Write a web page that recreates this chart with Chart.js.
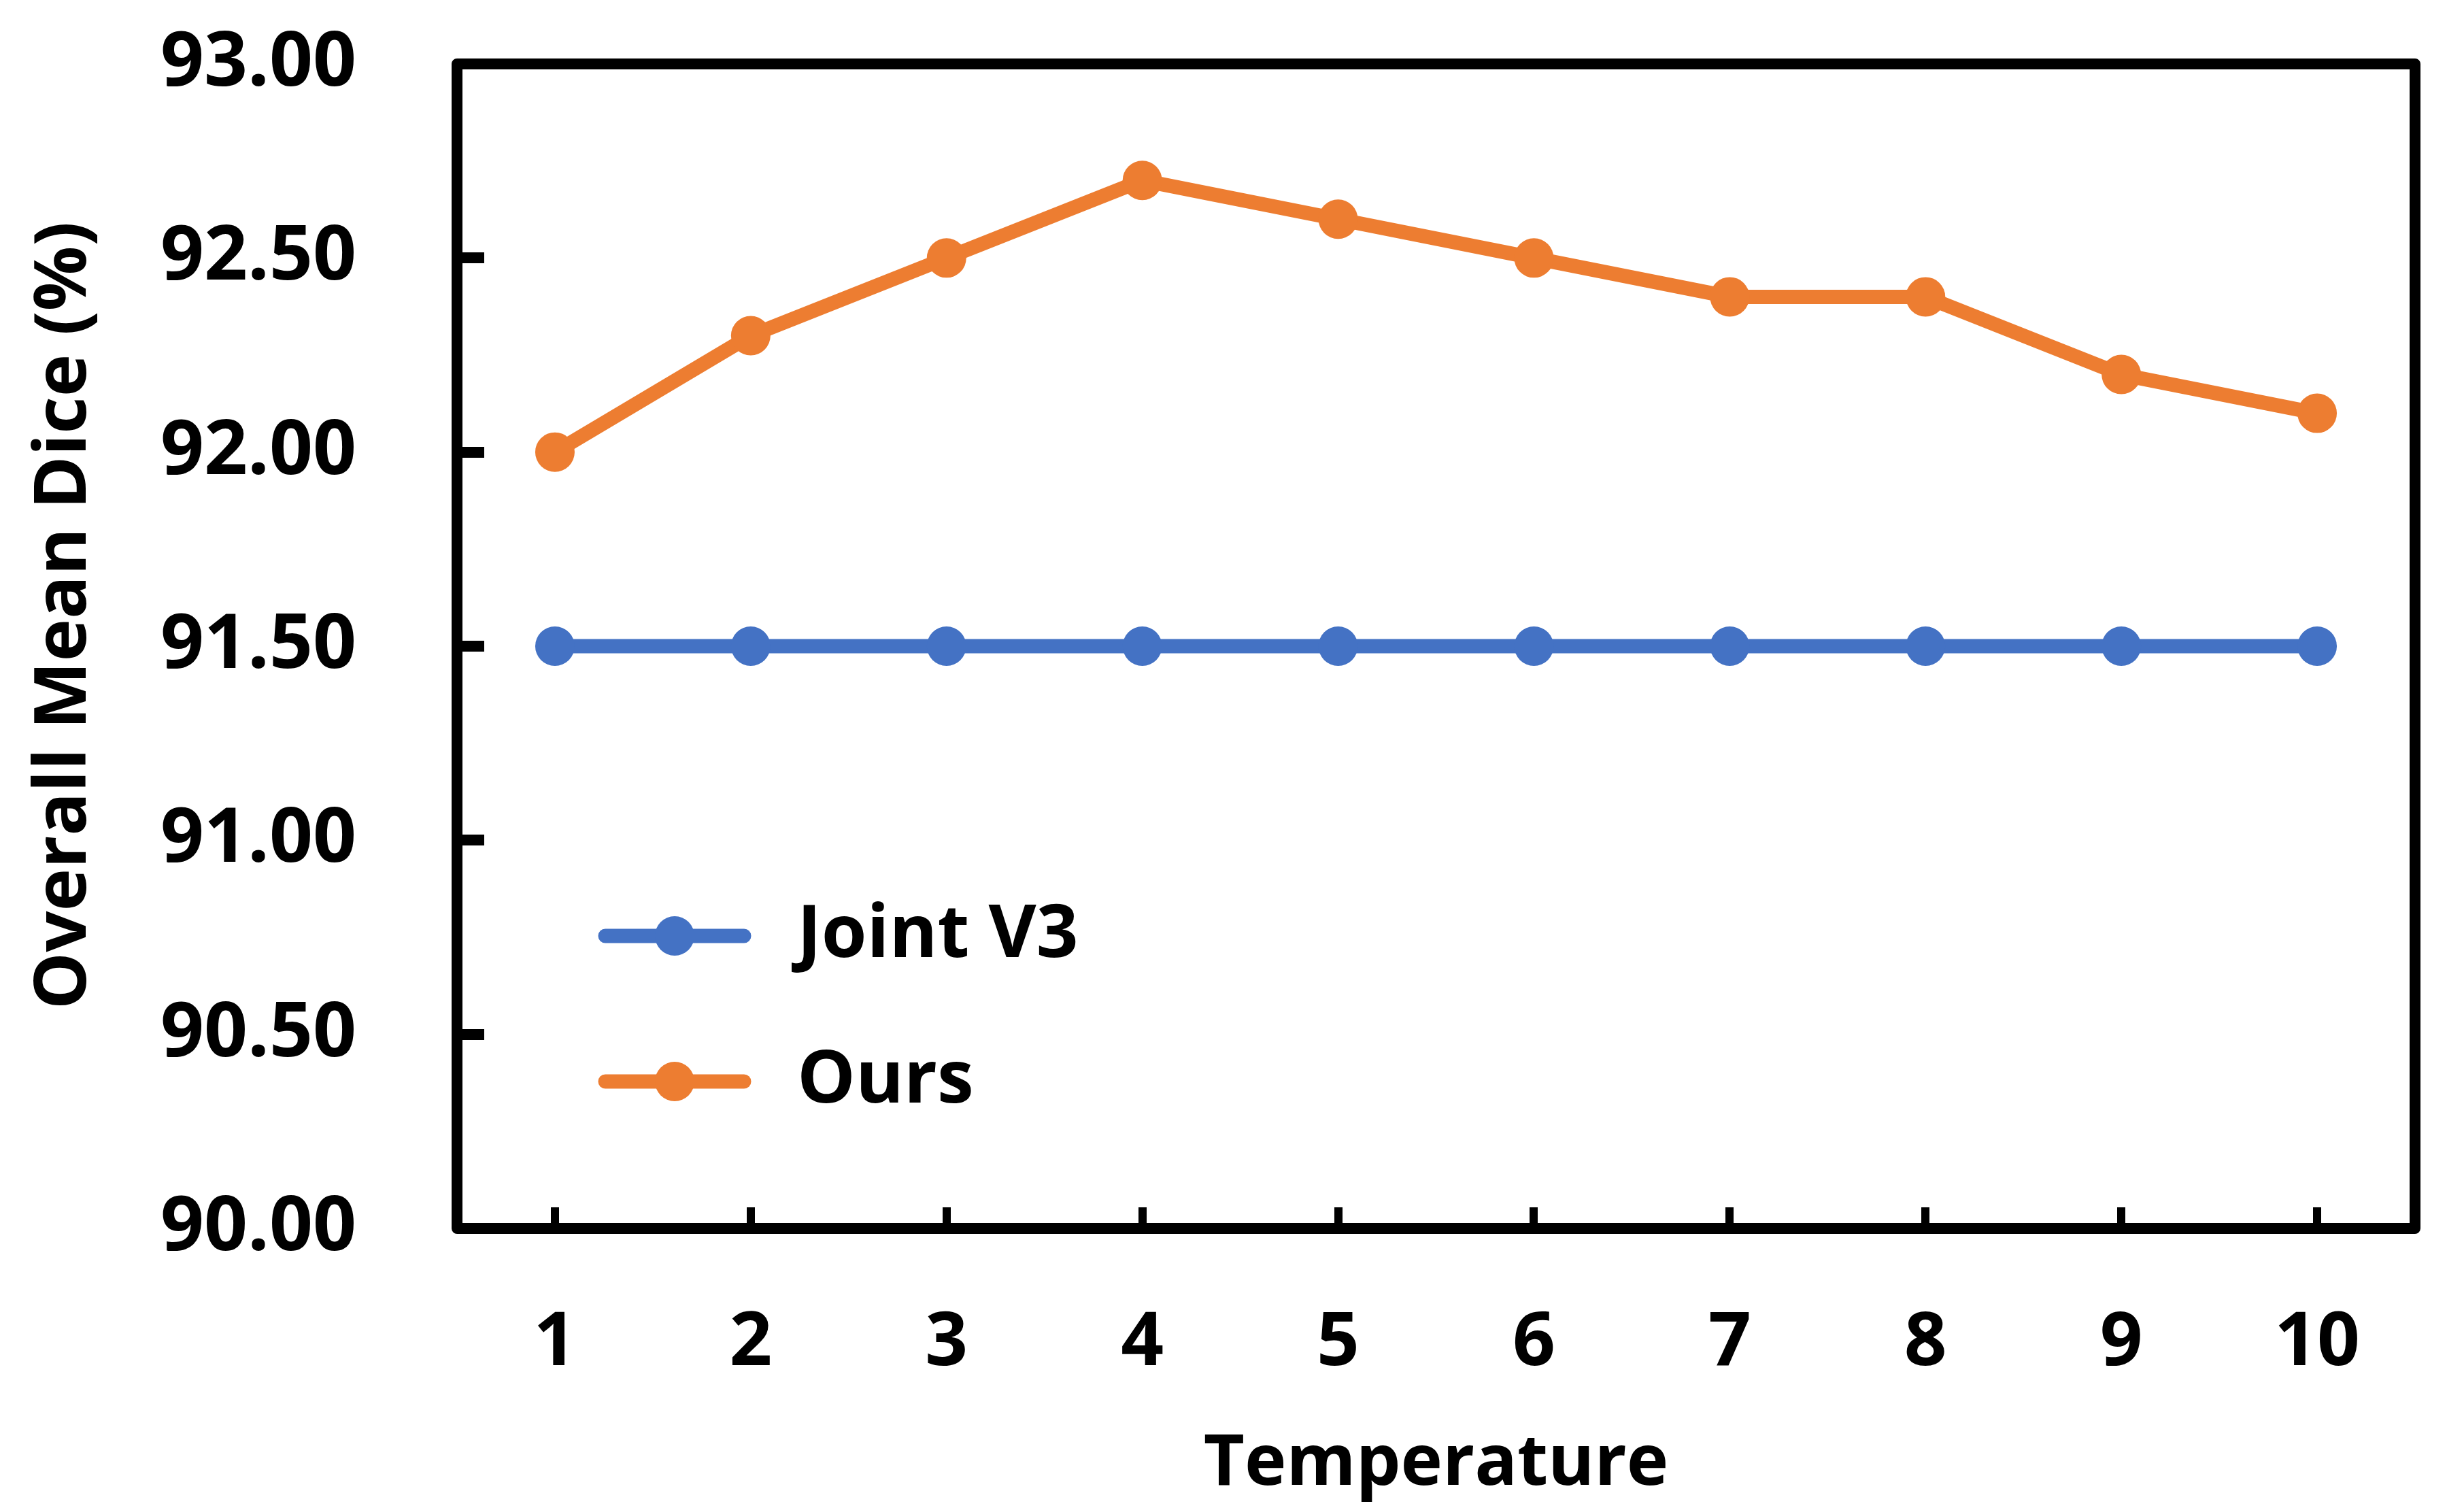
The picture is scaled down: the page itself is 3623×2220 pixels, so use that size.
<!DOCTYPE html>
<html>
<head>
<meta charset="utf-8">
<title>Overall Mean Dice vs Temperature</title>
<script src="https://cdn.jsdelivr.net/npm/chart.js@4.4.1/dist/chart.umd.min.js"></script>
<style>
    html, body { margin: 0; padding: 0; background: #fff; overflow: hidden; }
    canvas { display: block; }
</style>
</head>
<body>
<canvas id="canvasDice" width="3623" height="2220"></canvas>
<script>
"use strict";

var temperatures = ['1', '2', '3', '4', '5', '6', '7', '8', '9', '10'];
var jointV3Dice = [91.5, 91.5, 91.5, 91.5, 91.5, 91.5, 91.5, 91.5, 91.5, 91.5];
var oursDice = [92.0, 92.3, 92.5, 92.7, 92.6, 92.5, 92.4, 92.4, 92.2, 92.1];
var yTickValues = [90.0, 90.5, 91.0, 91.5, 92.0, 92.5, 93.0];
var seriesNames = ['Joint V3', 'Ours'];
var xTitle = 'Temperature';
var yTitle = 'Overall Mean Dice (%)';

var blue = '#4472C4';
var orange = '#ED7D31';
var fontFamily = "'Open Sans', 'DejaVu Sans', sans-serif";

// box round the plot area, drawn on top of the scale tick marks
var plotFrame = {
    id: 'plotFrame',
    afterDraw: function (chart) {
        var ctx = chart.ctx;
        var area = chart.chartArea;
        ctx.save();
        ctx.strokeStyle = '#000';
        ctx.lineWidth = 16;
        ctx.lineJoin = 'round';
        ctx.strokeRect(area.left, area.top, area.right - area.left, area.bottom - area.top);
        ctx.restore();
    }
};

// y title sits a little above the middle of the axis, so it is drawn here
var yAxisTitle = {
    id: 'yAxisTitle',
    afterDraw: function (chart) {
        var ctx = chart.ctx;
        var area = chart.chartArea;
        ctx.save();
        ctx.translate(96, (area.top + area.bottom) / 2 - 45);
        ctx.rotate(-Math.PI / 2);
        ctx.fillStyle = '#000';
        ctx.font = 'bold 106px ' + fontFamily;
        ctx.textAlign = 'center';
        ctx.textBaseline = 'middle';
        ctx.fillText(yTitle, 0, 0);
        ctx.restore();
    }
};

// legend sits inside the plot, lower left
var insideLegend = {
    id: 'insideLegend',
    afterDatasetsDraw: function (chart) {
        var ctx = chart.ctx;
        var area = chart.chartArea;
        ctx.save();
        chart.data.datasets.forEach(function (ds, i) {
            var y = area.top + 1282 + i * 214;
            var x0 = area.left + 218;
            var x1 = x0 + 204;
            ctx.strokeStyle = ds.borderColor;
            ctx.lineWidth = 21;
            ctx.lineCap = 'round';
            ctx.beginPath();
            ctx.moveTo(x0, y);
            ctx.lineTo(x1, y);
            ctx.stroke();
            ctx.fillStyle = ds.borderColor;
            ctx.beginPath();
            ctx.arc((x0 + x1) / 2, y, 29, 0, Math.PI * 2);
            ctx.fill();
            ctx.fillStyle = '#000';
            ctx.font = 'bold 108px ' + fontFamily;
            ctx.textAlign = 'left';
            ctx.textBaseline = 'middle';
            ctx.fillText(ds.label, area.left + 500, y);
        });
        ctx.restore();
    }
};

function MakeDataset(label, data, color) {
    return {
        label: label,
        data: data,
        borderColor: color,
        backgroundColor: color,
        borderWidth: 21,
        pointRadius: 29,
        pointHoverRadius: 29,
        pointBorderWidth: 0,
        pointBackgroundColor: color,
        tension: 0,
        fill: false
    };
}

const context = document.getElementById('canvasDice');
const myChart = new Chart(context, {
    type: 'line',
    data: {
        labels: temperatures,
        datasets: [
            MakeDataset(seriesNames[0], jointV3Dice, blue),
            MakeDataset(seriesNames[1], oursDice, orange)
        ]
    },
    options: {
        responsive: false,
        devicePixelRatio: 1,
        animation: false,
        layout: {
            autoPadding: false,
            padding: { top: 94, right: 72, left: 0, bottom: 0 }
        },
        plugins: {
            legend: { display: false },
            tooltip: { enabled: false }
        },
        scales: {
            x: {
                offset: true,
                grid: {
                    offset: false,
                    drawOnChartArea: false,
                    drawTicks: true,
                    tickLength: -31,
                    lineWidth: 12,
                    color: '#000'
                },
                border: { display: false },
                ticks: {
                    color: '#000',
                    padding: 135,
                    maxRotation: 0,
                    font: { family: fontFamily, size: 110, weight: 'bold' }
                },
                title: {
                    display: true,
                    text: xTitle,
                    color: '#000',
                    padding: { top: 0, bottom: 4 },
                    font: { family: fontFamily, size: 104, weight: 'bold' }
                },
                afterFit: function (scale) {
                    scale.height = 414;
                    scale.paddingLeft = 0;
                    scale.paddingRight = 0;
                }
            },
            y: {
                min: 90,
                max: 93,
                grid: {
                    drawOnChartArea: false,
                    drawTicks: true,
                    tickLength: -40,
                    lineWidth: 16,
                    color: '#000'
                },
                border: { display: false },
                afterBuildTicks: function (scale) {
                    scale.ticks = yTickValues.map(function (v) { return { value: v }; });
                },
                ticks: {
                    color: '#000',
                    padding: 188,
                    font: { family: fontFamily, size: 112, weight: 'bold' },
                    callback: function (value) {
                        return Number(value).toFixed(2);
                    }
                },
                title: { display: false },
                afterFit: function (scale) {
                    // tick padding would otherwise push the plot top down
                    scale.width = 672;
                    scale.paddingTop = 0;
                    scale.paddingBottom = 0;
                }
            }
        }
    },
    plugins: [plotFrame, yAxisTitle, insideLegend]
});
</script>
</body>
</html>
